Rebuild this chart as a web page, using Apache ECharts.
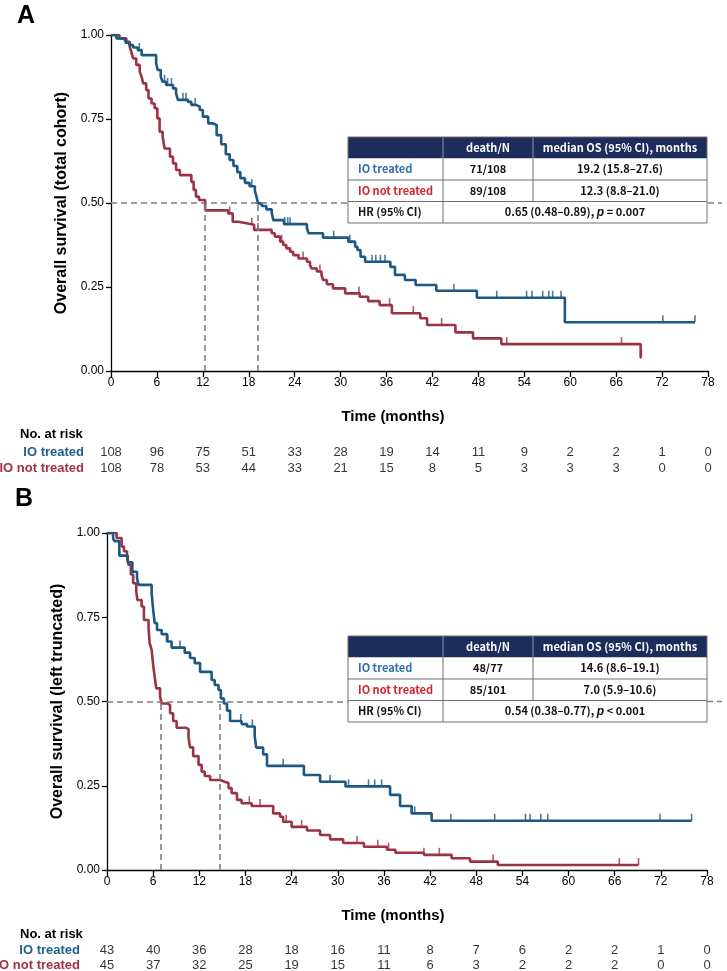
<!DOCTYPE html>
<html><head><meta charset="utf-8">
<script src="https://cdn.jsdelivr.net/npm/echarts@6/dist/echarts.min.js"></script>
<style>html,body{margin:0;padding:0;background:#fff}#c{width:727px;height:971px}</style>
</head><body><div id="c"></div>
<script>
// ---------- DATA ----------
const timeTicks = [0,6,12,18,24,30,36,42,48,54,60,66,72,78];
const groups = ['IO treated','IO not treated'];

// Panel A (total cohort)
const aTreatedT = [0,0.7,1.5,1.9,2.4,2.9,3.5,4.0,5.9,6.1,6.5,6.75,7.2,8.1,8.5,8.75,10.05,10.5,11.1,11.6,12.0,12.7,13.3,13.8,14.4,15.0,15.5,16.0,16.5,16.9,17.5,18.1,18.8,19.0,19.2,19.7,20.3,21.0,21.2,22.6,25.6,25.8,27.7,31.0,31.9,32.2,32.6,33.2,36.5,37.1,38.4,39.8,42.5,47.8,59.3,76.3];
const aTreatedS = [1,0.99,0.985,0.977,0.97,0.963,0.955,0.94,0.915,0.896,0.876,0.861,0.851,0.841,0.826,0.807,0.801,0.792,0.787,0.777,0.757,0.737,0.732,0.702,0.675,0.645,0.628,0.61,0.592,0.574,0.56,0.55,0.536,0.52,0.499,0.491,0.481,0.471,0.449,0.437,0.425,0.41,0.397,0.385,0.37,0.36,0.34,0.325,0.31,0.286,0.271,0.256,0.239,0.218,0.145,0.145];
const aTreatedCensor = [3.7,7.0,7.4,7.9,9.4,9.8,11.0,18.4,22.7,23.1,23.4,29.1,31.2,34.1,34.6,35.2,35.8,44.8,50.4,54.3,55.0,56.4,57.2,57.7,58.8,72.1,76.3];
const aNotT = [0,1.1,2.0,2.45,2.65,2.9,3.3,3.75,4.0,4.2,4.6,4.9,5.3,5.7,6.05,6.35,6.75,7.0,7.7,8.1,8.5,9.0,10.5,10.8,11.1,11.5,12.3,15.3,15.9,16.6,17.7,18.7,21.0,21.4,22.1,22.5,22.9,23.4,23.8,24.5,25.6,26.0,26.2,26.9,27.5,27.7,28.2,29.0,30.6,32.5,33.6,35.1,36.7,40.4,41.3,45.0,47.3,51.0,69.2,69.3];
const aNotS = [1,0.99,0.98,0.965,0.95,0.93,0.911,0.891,0.876,0.856,0.836,0.811,0.796,0.782,0.752,0.712,0.697,0.662,0.638,0.618,0.598,0.583,0.563,0.539,0.519,0.509,0.478,0.469,0.444,0.44,0.435,0.42,0.41,0.40,0.385,0.375,0.365,0.355,0.345,0.335,0.325,0.315,0.305,0.296,0.286,0.271,0.258,0.246,0.231,0.221,0.208,0.196,0.172,0.157,0.137,0.115,0.097,0.080,0.04,0.04];
const aNotCensor = [15.5,18.4,19.2,22.3,25.1,27.3,32.4,36.4,39.5,43.2,51.7,66.7,69.3];
const aMedians = [19.2, 12.3];
const aRiskTreated = [108,96,75,51,33,28,19,14,11,9,2,2,1,0];
const aRiskNot = [108,78,53,44,33,21,15,8,5,3,3,3,0,0];
const aTableRows = [
  ['IO treated','71/108','19.2 (15.8–27.6)'],
  ['IO not treated','89/108','12.3 (8.8–21.0)']
];
const aHR = ['0.65 (0.48–0.89), ', '=', '0.007'];

// Panel B (left truncated)
const bTreatedT = [0,0.8,1.0,1.6,2.7,3.3,3.9,4.1,5.8,6.0,6.2,6.5,7.1,7.8,8.4,10.1,10.8,11.4,12.1,13.6,14.0,14.5,14.8,15.2,15.6,16.0,17.5,18.2,19.2,19.4,20.3,20.8,25.6,27.7,31.0,36.8,38.1,39.6,42.2,76.0];
const bTreatedS = [1,0.982,0.976,0.933,0.913,0.885,0.866,0.846,0.822,0.772,0.733,0.712,0.70,0.678,0.66,0.645,0.629,0.614,0.588,0.564,0.549,0.534,0.509,0.494,0.473,0.442,0.433,0.426,0.398,0.363,0.343,0.309,0.282,0.262,0.248,0.223,0.19,0.168,0.146,0.146];
const bTreatedCensor = [7.9,9.5,17.4,18.9,22.9,29.0,31.4,34.0,34.8,35.7,40.0,44.7,50.4,54.4,55.0,56.4,57.3,71.9,76.0];
const bNotT = [0,1.25,1.9,2.2,2.6,2.8,3.1,3.4,3.8,3.95,4.5,4.8,5.4,5.55,5.8,6.0,6.2,6.4,6.9,7.1,7.8,8.2,8.6,9.05,10.3,10.6,10.8,11.2,11.9,12.3,12.7,13.4,14.7,15.3,15.8,16.2,16.9,17.5,18.8,21.6,22.5,22.9,24.0,26.0,27.7,29.0,30.7,33.4,36.4,37.5,41.2,44.8,47.2,50.8,69.1];
const bNotS = [1,0.985,0.96,0.946,0.93,0.906,0.877,0.851,0.827,0.801,0.782,0.742,0.717,0.673,0.653,0.608,0.574,0.539,0.514,0.494,0.49,0.465,0.442,0.422,0.418,0.393,0.364,0.338,0.312,0.292,0.279,0.267,0.262,0.258,0.243,0.228,0.208,0.198,0.19,0.168,0.158,0.143,0.128,0.117,0.104,0.091,0.08,0.069,0.06,0.051,0.045,0.035,0.025,0.015,0.015];
const bNotCensor = [18.5,19.9,23.3,25.3,32.5,35.2,36.6,41.2,43.2,50.2,66.6,69.1];
const bMedians = [14.6, 7.0];
const bRiskTreated = [43,40,36,28,18,16,11,8,7,6,2,2,1,0];
const bRiskNot = [45,37,32,25,19,15,11,6,3,2,2,2,0,0];
const bTableRows = [
  ['IO treated','48/77','14.6 (8.6–19.1)'],
  ['IO not treated','85/101','7.0 (5.9–10.6)']
];
const bHR = ['0.54 (0.38–0.77), ', '<', '0.001'];
const tableHeader = ['', 'death/N', 'median OS (95% CI), months'];

// ---------- STYLE ----------
const BLUE = '#1d5784', RED = '#9b3345';
const RISK_BLUE = '#1f5f8e', RISK_RED = '#a23343';
const TAB_BLUE = '#2f6cb3', TAB_RED = '#d4232d', NAVY = '#1c2c5b';
const SANS = '"Liberation Sans",Arial,sans-serif';
const KR = '"Noto Sans CJK KR","Noto Sans",sans-serif';
const DASH = {type:[6,4], color:'#7f7f7f', width:1.6};

function zip(t, s){ return t.map((v,i)=>[v, s[i]]); }
function stepAt(t, s, x){ let v = s[0]; for(let i=0;i<t.length;i++){ if(t[i] <= x + 1e-9) v = s[i]; } return v; }

const panels = [
  {grid:{left:111, top:35, width:597, height:336}, risk:{left:111, top:444, width:597, height:32},
   yName:'Overall survival (total cohort)', tT:aTreatedT, tS:aTreatedS, tC:aTreatedCensor, nT:aNotT, nS:aNotS, nC:aNotCensor,
   med:aMedians, rT:aRiskTreated, rN:aRiskNot, label:'A', labelY:16, riskY:434, titleY:417, tableY:137, rows:aTableRows, hr:aHR},
  {grid:{left:107, top:533, width:600, height:337}, risk:{left:107, top:943, width:600, height:30},
   yName:'Overall survival (left truncated)', tT:bTreatedT, tS:bTreatedS, tC:bTreatedCensor, nT:bNotT, nS:bNotS, nC:bNotCensor,
   med:bMedians, rT:bRiskTreated, rN:bRiskNot, label:'B', labelY:499, riskY:934, titleY:916, tableY:636, rows:bTableRows, hr:bHR}
];

const grid = [], xAxis = [], yAxis = [], series = [];
panels.forEach((p, k) => {
  const gi = grid.length;
  p.axisIndex = gi;
  grid.push(Object.assign({containLabel:false, outerBoundsMode:'none'}, p.grid));
  xAxis.push({type:'value', gridIndex:gi, min:0, max:78, interval:6,
    axisLine:{show:true, onZero:false, lineStyle:{color:'#000', width:1.3}},
    axisTick:{show:true, length:6, lineStyle:{color:'#000', width:1.3}},
    axisLabel:{color:'#000', fontSize:12, fontFamily:SANS, margin:6},
    splitLine:{show:false}});
  yAxis.push({type:'value', gridIndex:gi, min:0, max:1, interval:0.25,
    name:p.yName, nameLocation:'middle', nameRotate:90, nameGap:36,
    nameTextStyle:{color:'#000', fontSize:16, fontWeight:'bold', fontFamily:SANS},
    axisLine:{show:true, onZero:false, lineStyle:{color:'#000', width:1.3}},
    axisTick:{show:true, length:5, lineStyle:{color:'#000', width:1.3}},
    axisLabel:{color:'#000', fontSize:12, fontFamily:SANS, margin:7, formatter:v=>v.toFixed(2)},
    splitLine:{show:false}});
  const ai = gi;
  series.push({type:'line', xAxisIndex:ai, yAxisIndex:ai, step:'end', data:zip(p.nT,p.nS), showSymbol:false, symbol:'none',
    lineStyle:{color:RED, width:2.6}, z:3, animation:false, silent:true});
  series.push({type:'line', xAxisIndex:ai, yAxisIndex:ai, step:'end', data:zip(p.tT,p.tS), showSymbol:false, symbol:'none',
    lineStyle:{color:BLUE, width:2.6}, z:3, animation:false, silent:true,
    markLine:{symbol:['none','none'], silent:true, animation:false, label:{show:false}, lineStyle:DASH,
      data:[ [{coord:[0,0.5]},{coord:[78,0.5]}] ].concat(p.med.map(m=>[{coord:[m,0]},{coord:[m,0.5]}]))}});
  series.push({type:'scatter', xAxisIndex:ai, yAxisIndex:ai, data:p.nC.map(c=>[c, stepAt(p.nT,p.nS,c)]),
    symbol:'rect', symbolSize:[1.6,7], symbolOffset:[0,-3.5], itemStyle:{color:RED}, z:4, animation:false, silent:true});
  series.push({type:'scatter', xAxisIndex:ai, yAxisIndex:ai, data:p.tC.map(c=>[c, stepAt(p.tT,p.tS,c)]),
    symbol:'rect', symbolSize:[1.6,7], symbolOffset:[0,-3.5], itemStyle:{color:BLUE}, z:4, animation:false, silent:true});

  // risk table grid
  const ri = grid.length;
  grid.push(Object.assign({containLabel:false, outerBoundsMode:'none'}, p.risk));
  xAxis.push({type:'value', gridIndex:ri, min:0, max:78, interval:6, show:false});
  yAxis.push({type:'category', gridIndex:ri, data:groups, inverse:true,
    axisLine:{show:false}, axisTick:{show:false}, splitLine:{show:false},
    axisLabel:{interval:0, margin:27, fontSize:13, fontWeight:'bold', fontFamily:SANS,
      color:(v,i)=> (v===groups[0] ? RISK_BLUE : RISK_RED)}});
  [p.rT, p.rN].forEach((arr, row) => {
    series.push({type:'scatter', xAxisIndex:ri, yAxisIndex:ri, symbolSize:1, itemStyle:{color:'rgba(0,0,0,0)'},
      data:timeTicks.map((t,i)=>[t, row, arr[i]]), animation:false, silent:true,
      label:{show:true, position:'inside', formatter:q=>String(q.value[2]), color:'#000', fontSize:13, fontFamily:SANS}});
  });
});

const chart = echarts.init(document.getElementById('c'), null, {renderer:'canvas'});
chart.setOption({animation:false, backgroundColor:'#fff', grid:grid, xAxis:xAxis, yAxis:yAxis, series:series});

// ---------- graphic: labels, tables, dashed extension ----------
const graphic = [];
function txt(x, y, text, font, fill, align){
  graphic.push({type:'text', x:x, y:y, z:100, silent:true,
    style:{text:text, font:font, fill:fill||'#000', textAlign:align||'left', textVerticalAlign:'middle'}});
}
function table(y0, rows, hr){
  const xs = [348, 443, 533, 707], rh = 21.5;
  const ys = [0,1,2,3,4].map(i=>y0 + i*rh);
  const W = xs[3]-xs[0];
  graphic.push({type:'rect', z:100, silent:true, shape:{x:xs[0], y:ys[0], width:W, height:rh}, style:{fill:NAVY}});
  graphic.push({type:'rect', z:100, silent:true, shape:{x:xs[0], y:ys[1], width:W, height:rh*3}, style:{fill:'#fff'}});
  const line = (x1,y1,x2,y2,c)=>graphic.push({type:'line', z:101, silent:true, shape:{x1:x1,y1:y1,x2:x2,y2:y2}, style:{stroke:c||'#6e6e6e', lineWidth:1}});
  line(xs[1], ys[0], xs[1], ys[1], '#8d95ad'); line(xs[2], ys[0], xs[2], ys[1], '#8d95ad');
  line(xs[1], ys[1], xs[1], ys[4]); line(xs[2], ys[1], xs[2], ys[3]);
  line(xs[0], ys[2], xs[3], ys[2]); line(xs[0], ys[3], xs[3], ys[3]);
  graphic.push({type:'rect', z:101, silent:true, shape:{x:xs[0], y:ys[0], width:W, height:rh*4}, style:{fill:'none', stroke:'#6e6e6e', lineWidth:1}});
  const cx1 = (xs[1]+xs[2])/2, cx2 = (xs[2]+xs[3])/2;
  const F = 'bold 11px '+KR;
  const mid = i => (ys[i]+ys[i+1])/2;
  txt(cx1, mid(0), tableHeader[1], F, '#fff', 'center');
  txt(cx2, mid(0), tableHeader[2], F, '#fff', 'center');
  rows.forEach((r, i) => {
    txt(xs[0]+10, mid(i+1), r[0], F, i===0 ? TAB_BLUE : TAB_RED, 'left');
    txt(cx1, mid(i+1), r[1], F, '#111', 'center');
    txt(cx2, mid(i+1), r[2], F, '#111', 'center');
  });
  txt(xs[0]+10, mid(3), 'HR (95% CI)', F, '#111', 'left');
  graphic.push({type:'text', x:(xs[1]+xs[3])/2, y:mid(3), z:102, silent:true,
    style:{text:'{a|'+hr[0]+'}{i|p}{a| '+hr[1]+' '+hr[2]+'}', textAlign:'center', textVerticalAlign:'middle',
      rich:{a:{font:F, fill:'#111'}, i:{font:'italic bold 12px '+SANS, fill:'#111'}}}});
}
panels.forEach(p => {
  const a = chart.convertToPixel({xAxisIndex:p.axisIndex, yAxisIndex:p.axisIndex}, [78, 0.5]);
  graphic.push({type:'line', z:5, silent:true, shape:{x1:a[0], y1:a[1], x2:722, y2:a[1]},
    style:{stroke:DASH.color, lineWidth:DASH.width, lineDash:DASH.type}});
  txt(p.label==='A'?17:15, p.labelY, p.label, 'bold 25px '+SANS);
  txt(393, p.titleY, 'Time (months)', 'bold 15px '+SANS, '#000', 'center');
  txt(20, p.riskY, 'No. at risk', 'bold 13px '+SANS);
  table(p.tableY, p.rows, p.hr);
});
chart.setOption({graphic:graphic});
</script></body></html>
